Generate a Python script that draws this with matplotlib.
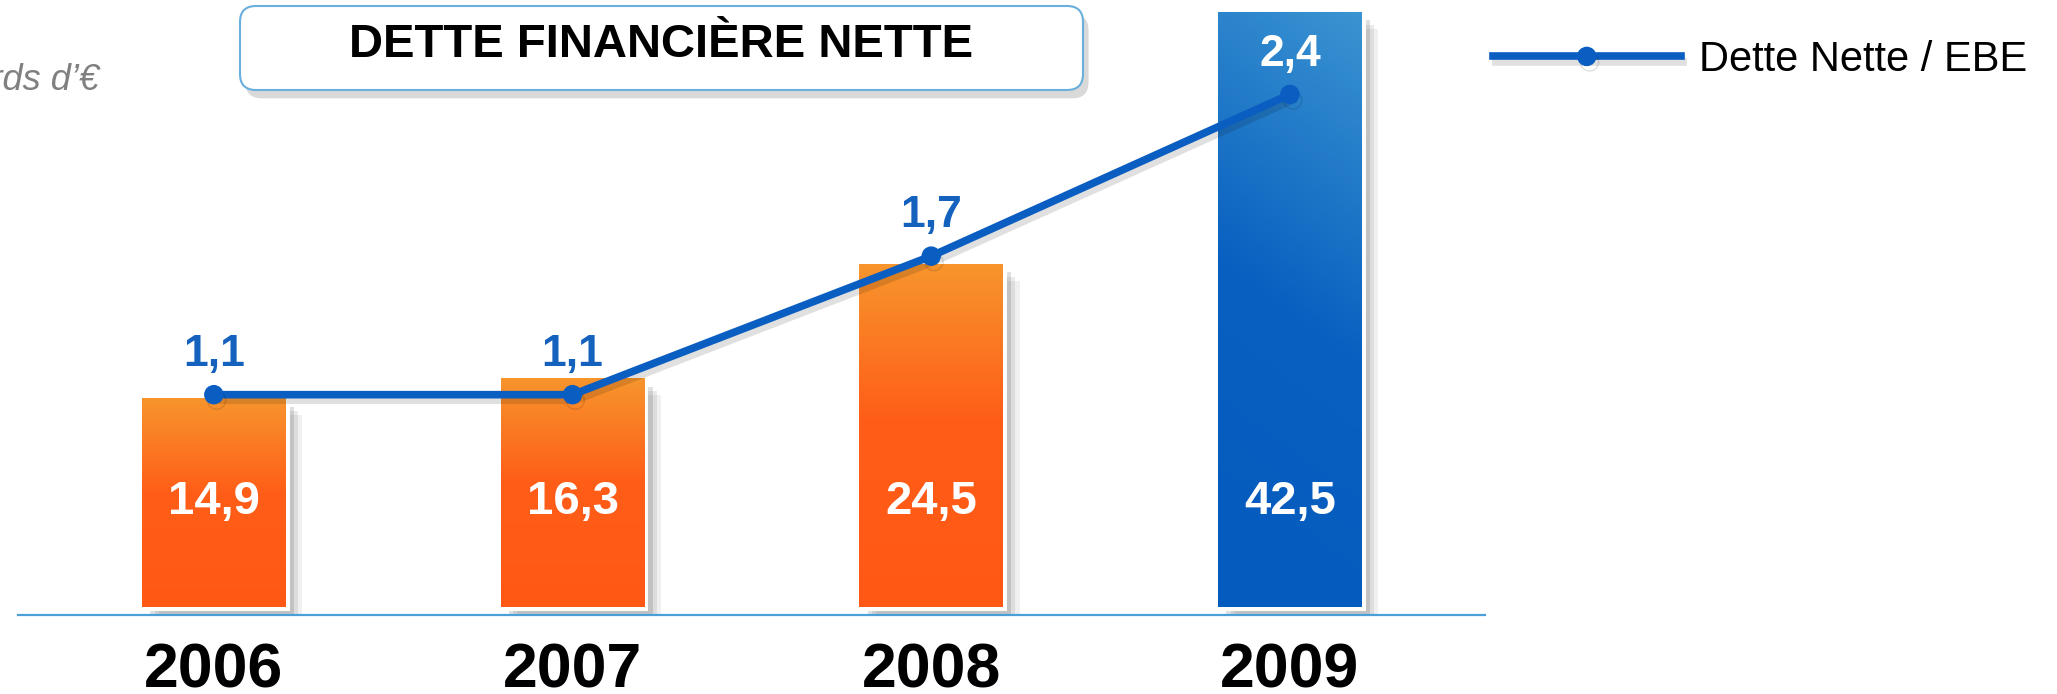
import numpy as np
import matplotlib
matplotlib.use("Agg")
import matplotlib.pyplot as plt
import matplotlib.patheffects as pe
from matplotlib.colors import LinearSegmentedColormap
from matplotlib.patches import FancyBboxPatch
from matplotlib.transforms import IdentityTransform

plt.rcParams['font.family'] = ['Liberation Sans', 'DejaVu Sans']

# data
years = ["2006", "2007", "2008", "2009"]
dette = [14.9, 16.3, 24.5, 42.5]          # milliards d'euros
ratio = [1.1, 1.1, 1.7, 2.4]              # dette nette / EBE
dette_lbl = ["14,9", "16,3", "24,5", "42,5"]
ratio_lbl = ["1,1", "1,1", "1,7", "2,4"]

W, H = 2057, 694
fig = plt.figure(figsize=(W / 100, H / 100), dpi=100)
fig.patch.set_facecolor("white")

# main axes placed in pixels: baseline at y=615 from top, from x=18 to 1485
ax = fig.add_axes([18 / W, (H - 615) / H, (1485 - 18) / W, 615 / H])
x = np.arange(len(years))
bw = 0.40

shadow = [pe.SimplePatchShadow(offset=(12, -12), shadow_rgbFace="black", alpha=0.06),
          pe.SimplePatchShadow(offset=(9, -9), shadow_rgbFace="black", alpha=0.08),
          pe.SimplePatchShadow(offset=(6, -6), shadow_rgbFace="black", alpha=0.12),
          pe.SimplePatchShadow(offset=(3, -3), shadow_rgbFace="black", alpha=0.12),
          pe.Normal()]
bars = ax.bar(x, dette, width=bw, color="white", edgecolor="white",
              linewidth=5, zorder=2, path_effects=shadow)

orange = LinearSegmentedColormap.from_list("o", [(0, "#F7952D"), (0.45, "#FF5E18"), (1, "#FF5815")])
blue = LinearSegmentedColormap.from_list("b", [(0, "#3A94D1"), (0.5, "#0A60C0"), (1, "#055BBE")])
gy, gx = np.mgrid[0:1:256j, 0:1:64j]
for i, b in enumerate(bars):
    if i == len(bars) - 1:
        cm, grad = blue, np.clip(0.85 * gy + 0.15 * (1 - gx), 0, 1)
    else:
        cm, grad = orange, gy
    ax.imshow(grad, extent=(b.get_x(), b.get_x() + b.get_width(), 0, b.get_height()),
              cmap=cm, aspect="auto", zorder=3, interpolation="bicubic", vmin=0, vmax=1)
    ax.text(b.get_x() + b.get_width() / 2, 7.5, dette_lbl[i], ha="center", va="center",
            color="white", fontsize=34, fontweight="bold", zorder=5)

ax.set_xlim(-0.546, 3.544)
ax.set_ylim(-0.57, 43.36)
for s in ["top", "left", "right"]:
    ax.spines[s].set_visible(False)
ax.spines["bottom"].set_color("#4A9FD8")
ax.spines["bottom"].set_linewidth(1.6)
ax.set_yticks([])
ax.set_xticks(x, years, fontsize=45, fontweight="bold")
ax.tick_params(axis="x", length=0, pad=19)

# ratio line on a twin axis
ax2 = ax.twinx()
ax2.set_ylim(0.146, 2.809)
ax2.set_yticks([])
for s in ax2.spines.values():
    s.set_visible(False)
line_fx = [pe.SimpleLineShadow(offset=(2, -4), shadow_color="black", alpha=0.12), pe.Normal()]
ax2.plot(x, ratio, color="#0A5DC1", linewidth=5.5, marker="o", markersize=13,
         label="Dette Nette / EBE", zorder=6, path_effects=line_fx)
for i, v in enumerate(ratio):
    c = "white" if i == len(ratio) - 1 else "#1561BE"
    ax2.annotate(ratio_lbl[i], (x[i], v), xytext=(0, 29), textcoords="offset points",
                 ha="center", va="center", color=c, fontsize=32, fontweight="bold", zorder=7)

ax2.legend(loc="center left", bbox_to_anchor=(1493 / W, (H - 60) / H), bbox_transform=fig.transFigure,
           frameon=False, fontsize=30, handlelength=4.5, handletextpad=0.45,
           borderpad=0, borderaxespad=0)

# title box (pixel coords)
box = FancyBboxPatch((240, H - 90), 843, 84, boxstyle="round,pad=0,rounding_size=16",
                     transform=IdentityTransform(), facecolor="white", edgecolor="#6AAFDD",
                     linewidth=1.5, zorder=10,
                     path_effects=[pe.SimplePatchShadow(offset=(4, -6), shadow_rgbFace="black", alpha=0.15),
                                   pe.Normal()])
fig.add_artist(box)
fig.text(661 / W, (H - 45) / H, "DETTE FINANCIÈRE NETTE", ha="center", va="center",
         fontsize=34, fontweight="bold", color="black", zorder=11)

fig.text(99 / W, (H - 90) / H, "En milliards d’€", ha="right", va="baseline",
         fontsize=26, style="italic", color="#808080")

fig.savefig("out.png", dpi=100)
